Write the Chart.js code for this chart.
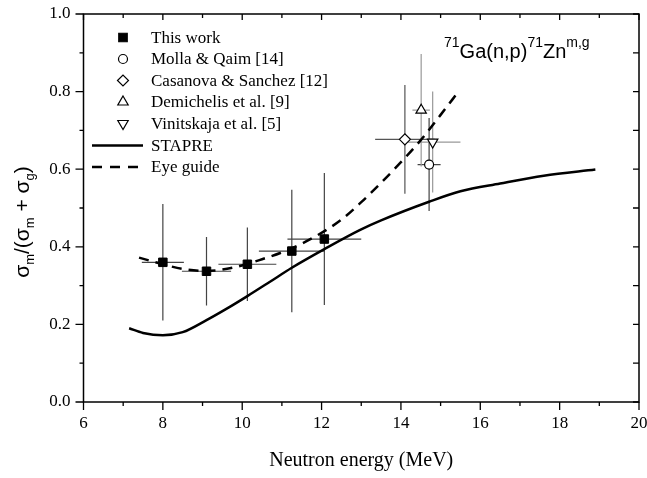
<!DOCTYPE html>
<html lang="en">
<head>
<meta charset="UTF-8">
<title>71Ga(n,p)71Zn isomeric ratio</title>
<script src="https://cdn.jsdelivr.net/npm/chart.js"></script>
<style>
html, body {
	margin: 0;
	padding: 0;
	background: #fff;
}

#wrap {
	width: 647px;
	height: 478px;
}
</style>
</head>
<body>
<div id="wrap"><canvas id="chart"></canvas></div>
<script>
// axis ticks
const xTicks = [6, 8, 10, 12, 14, 16, 18, 20];
const yTicks = [0.0, 0.2, 0.4, 0.6, 0.8, 1.0];

// this work (filled squares)
const thisWorkE = [8.0, 9.1, 10.13, 11.25, 12.07];
const thisWorkR = [0.36, 0.337, 0.355, 0.389, 0.42];
const thisWorkDR = [0.15, 0.088, 0.095, 0.158, 0.17];
const thisWorkDE = [0.53, 0.62, 0.73, 0.83, 0.93];

// literature points
const mollaE = [14.71], mollaR = [0.612], mollaDR = [0.12], mollaDE = [0.29];
const casanovaE = [14.1], casanovaR = [0.677], casanovaDR = [0.14], casanovaDE = [0.75];
const demichelisE = [14.51], demichelisR = [0.752], demichelisDR = [0.145], demichelisDE = [0.22];
const vinitskajaE = [14.8], vinitskajaR = [0.67], vinitskajaDR = [0.13], vinitskajaDE = [0.7];

// STAPRE calculation
const stapreE = [7.15, 7.5, 8.0, 8.5, 9.1, 9.6, 10.13, 10.7, 11.25, 12.07, 12.96, 13.5, 14.71, 15.5, 16.5, 17.6, 18.9];
const stapreR = [0.19, 0.178, 0.172, 0.18, 0.211, 0.24, 0.273, 0.31, 0.346, 0.394, 0.443, 0.468, 0.516, 0.543, 0.563, 0.583, 0.599];

// eye guide
const eyeE = [7.4, 8.0, 8.5, 9.1, 9.8, 10.5, 11.2, 11.9, 12.5, 13.0, 13.5, 14.0, 14.5, 15.0, 15.45];
const eyeR = [0.372, 0.355, 0.343, 0.338, 0.347, 0.368, 0.394, 0.43, 0.47, 0.515, 0.565, 0.618, 0.675, 0.74, 0.80];

const pts = (xs, ys) => xs.map((v, i) => ({ x: v, y: ys[i] }));

const serif = '"Liberation Serif", "Times New Roman", serif';
const sans = '"Liberation Sans", Arial, sans-serif';

const errorBars = {
	id: 'errorBars',
	beforeDatasetsDraw(chart) {
		const { ctx, scales: { x, y } } = chart;
		ctx.save();
		chart.data.datasets.forEach(ds => {
			if (!ds.errY) return;
			ctx.strokeStyle = ds.barColor;
			ctx.lineWidth = 1.2;
			ds.data.forEach((p, i) => {
				const px = x.getPixelForValue(p.x);
				const py = y.getPixelForValue(p.y);
				ctx.beginPath();
				ctx.moveTo(px, y.getPixelForValue(p.y - ds.errY[i]));
				ctx.lineTo(px, y.getPixelForValue(p.y + ds.errY[i]));
				ctx.moveTo(x.getPixelForValue(p.x - ds.errX[i]), py);
				ctx.lineTo(x.getPixelForValue(p.x + ds.errX[i]), py);
				ctx.stroke();
			});
		});
		ctx.restore();
	}
};

function drawRich(ctx, parts, x, y, align) {
	// parts: [text, size, dy]
	let w = 0;
	parts.forEach(p => { ctx.font = p[1] + 'px ' + sans; w += ctx.measureText(p[0]).width; });
	let cx = align === 'center' ? x - w / 2 : x;
	ctx.textAlign = 'left';
	ctx.textBaseline = 'alphabetic';
	parts.forEach(p => {
		ctx.font = p[1] + 'px ' + sans;
		ctx.fillText(p[0], cx, y + p[2]);
		cx += ctx.measureText(p[0]).width;
	});
}

const frame = {
	id: 'frame',
	afterDraw(chart) {
		const { ctx, chartArea: a, scales: { x, y } } = chart;
		ctx.save();
		ctx.strokeStyle = '#000';
		ctx.lineWidth = 1.5;
		ctx.strokeRect(a.left, a.top, a.right - a.left, a.bottom - a.top);
		ctx.lineWidth = 1.3;
		ctx.beginPath();
		for (let v = 6; v <= 20; v += 1) {
			const px = x.getPixelForValue(v);
			const major = v % 2 === 0;
			ctx.moveTo(px, a.bottom);
			ctx.lineTo(px, a.bottom + (major ? 8 : 4));
			ctx.moveTo(px, a.top);
			ctx.lineTo(px, a.top + (major ? 6 : 4));
		}
		for (let k = 0; k <= 10; k++) {
			const py = y.getPixelForValue(k / 10);
			const major = k % 2 === 0;
			ctx.moveTo(a.left, py);
			ctx.lineTo(a.left - (major ? 8 : 4), py);
			ctx.moveTo(a.right, py);
			ctx.lineTo(a.right - 6, py);
		}
		ctx.stroke();

		// legend
		const lx = 123, tx = 151;
		const rows = [37.5, 59, 80.5, 102, 123.5, 145.5, 167];
		const labels = ['This work', 'Molla & Qaim [14]', 'Casanova & Sanchez [12]',
			'Demichelis et al. [9]', 'Vinitskaja et al. [5]', 'STAPRE', 'Eye guide'];
		const ds = chart.data.datasets;
		for (let i = 0; i < 5; i++) {
			const d = ds[i];
			ctx.fillStyle = d.pointBackgroundColor;
			ctx.strokeStyle = '#000';
			ctx.lineWidth = 1.2;
			Chart.helpers.drawPoint(ctx, {
				pointStyle: d.pointStyle, radius: d.pointRadius,
				rotation: d.rotation || 0, borderWidth: 1.2
			}, lx, rows[i]);
		}
		ctx.strokeStyle = '#000';
		ctx.lineWidth = 2.5;
		ctx.beginPath();
		ctx.moveTo(92, rows[5]);
		ctx.lineTo(143, rows[5]);
		ctx.stroke();
		ctx.setLineDash([10, 8]);
		ctx.beginPath();
		ctx.moveTo(92, rows[6]);
		ctx.lineTo(143, rows[6]);
		ctx.stroke();
		ctx.setLineDash([]);
		ctx.fillStyle = '#000';
		ctx.font = '17px ' + serif;
		ctx.textAlign = 'left';
		ctx.textBaseline = 'middle';
		labels.forEach((t, i) => ctx.fillText(t, tx, rows[i] + 1));

		// reaction label
		drawRich(ctx, [['71', 14, -11], ['Ga(n,p)', 20, 0], ['71', 14, -11], ['Zn', 20, 0], ['m,g', 14, -11]], 444, 58, 'left');

		// axis titles
		ctx.font = '20px ' + serif;
		ctx.textAlign = 'center';
		ctx.textBaseline = 'middle';
		ctx.fillText('Neutron energy (MeV)', (a.left + a.right) / 2, 461);

		ctx.translate(29, 222);
		ctx.rotate(-Math.PI / 2);
		drawRich(ctx, [['σ', 21, 0], ['m', 13, 5], ['/(σ', 21, 0], ['m', 13, 5], [' + σ', 21, 0], ['g', 13, 5], [')', 21, 0]], 0, 0, 'center');
		ctx.restore();
	}
};

new Chart(document.getElementById('chart'), {
	type: 'scatter',
	data: {
		datasets: [
			{ label: 'This work', data: pts(thisWorkE, thisWorkR), errY: thisWorkDR, errX: thisWorkDE, barColor: '#444',
				pointStyle: 'rect', pointRadius: 6, pointBackgroundColor: '#000', pointBorderColor: '#000', pointBorderWidth: 1 },
			{ label: 'Molla & Qaim [14]', data: pts(mollaE, mollaR), errY: mollaDR, errX: mollaDE, barColor: '#444',
				pointStyle: 'circle', pointRadius: 4.5, pointBackgroundColor: '#fff', pointBorderColor: '#000', pointBorderWidth: 1.2 },
			{ label: 'Casanova & Sanchez [12]', data: pts(casanovaE, casanovaR), errY: casanovaDR, errX: casanovaDE, barColor: '#555',
				pointStyle: 'rectRot', pointRadius: 5.5, pointBackgroundColor: '#fff', pointBorderColor: '#000', pointBorderWidth: 1.2 },
			{ label: 'Demichelis et al. [9]', data: pts(demichelisE, demichelisR), errY: demichelisDR, errX: demichelisDE, barColor: '#999',
				pointStyle: 'triangle', pointRadius: 6, pointBackgroundColor: '#fff', pointBorderColor: '#000', pointBorderWidth: 1.2 },
			{ label: 'Vinitskaja et al. [5]', data: pts(vinitskajaE, vinitskajaR), errY: vinitskajaDR, errX: vinitskajaDE, barColor: '#999',
				pointStyle: 'triangle', rotation: 180, pointRotation: 180, pointRadius: 6, pointBackgroundColor: '#fff', pointBorderColor: '#000', pointBorderWidth: 1.2 },
			{ label: 'STAPRE', data: pts(stapreE, stapreR), showLine: true, pointRadius: 0,
				borderColor: '#000', borderWidth: 2.5, cubicInterpolationMode: 'monotone' },
			{ label: 'Eye guide', data: pts(eyeE, eyeR), showLine: true, pointRadius: 0,
				borderColor: '#000', borderWidth: 2.5, borderDash: [10, 7], cubicInterpolationMode: 'monotone' }
		]
	},
	options: {
		responsive: true,
		maintainAspectRatio: false,
		animation: false,
		layout: { autoPadding: false, padding: { top: 14, right: 8, left: 0, bottom: 0 } },
		plugins: { legend: { display: false }, tooltip: { enabled: false } },
		scales: {
			x: {
				type: 'linear', min: 6, max: 20,
				afterBuildTicks: s => { s.ticks = xTicks.map(v => ({ value: v })); },
				ticks: { color: '#000', font: { family: serif, size: 17 }, padding: 3, maxRotation: 0 },
				grid: { display: false, drawTicks: true, tickLength: 8 },
				border: { display: false },
				afterFit: s => { s.height = 76; s.paddingLeft = 0; s.paddingRight = 0; }
			},
			y: {
				type: 'linear', min: 0, max: 1,
				afterBuildTicks: s => { s.ticks = yTicks.map(v => ({ value: v })); },
				ticks: { color: '#000', font: { family: serif, size: 17 }, padding: 5, callback: v => v.toFixed(1) },
				grid: { display: false, drawTicks: true, tickLength: 8 },
				border: { display: false },
				afterFit: s => { s.width = 83.5; s.paddingTop = 0; s.paddingBottom = 0; }
			}
		}
	},
	plugins: [errorBars, frame]
});
</script>
</body>
</html>
